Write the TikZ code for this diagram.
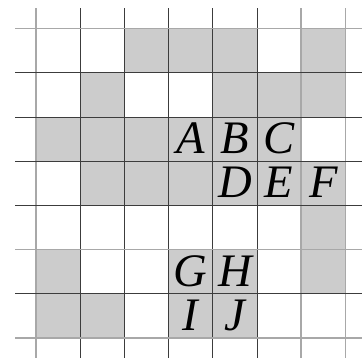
\documentclass[tikz,border=0pt]{standalone}
\usepackage{fontspec}
\newfontfamily\letterfont{Liberation Serif Italic}
\usepackage{xcolor}
\definecolor{cellgray}{HTML}{CCCCCC}
\definecolor{gridline}{HTML}{3C3C3C}
\definecolor{gridpale}{HTML}{A8A8A8}
\tikzset{
  cell/.style={fill=cellgray, draw=none},
  grid/.style={draw=gridline, line width=0.45pt},
  gridlt/.style={draw=gridpale, line width=0.9pt},
  letter/.style={font=\fontsize{30}{30}\letterfont, anchor=base, inner sep=0pt},
}

\begin{document}
\begin{tikzpicture}

  \useasboundingbox (-0.815,-0.452) rectangle (7.376,7.647);

  % shaded cells, row by row from the top
  \foreach \x in {2,3,4,6} \fill[cell] (\x,6) rectangle ++(1,1);
  \foreach \x in {1,4,5,6} \fill[cell] (\x,5) rectangle ++(1,1);
  \foreach \x in {0,...,5} \fill[cell] (\x,4) rectangle ++(1,1);
  \foreach \x in {1,...,6} \fill[cell] (\x,3) rectangle ++(1,1);
  \fill[cell] (6,2) rectangle ++(1,1);
  \foreach \x in {0,3,4,6} \fill[cell] (\x,1) rectangle ++(1,1);
  \foreach \x in {0,1,3,4} \fill[cell] (\x,0) rectangle ++(1,1);

  % grid lines
  \foreach \x in {1,...,5}
    \draw[grid] (\x,-0.452) -- (\x,7.466);
  \foreach \x in {0,6,7}
    \draw[gridlt] (\x,-0.452) -- (\x,7.466);
  \foreach \y in {1,3,4,5,6}
    \draw[grid] (-0.475,\y) -- (7.376,\y);
  \foreach \y in {0,2,7}
    \draw[gridlt] (-0.475,\y) -- (7.376,\y);

  % letters
  \foreach \name/\x/\y in {A/3/4, B/4/4, C/5/4, D/4/3, E/5/3, F/6/3, G/3/1, H/4/1, I/3/0, J/4/0}
    \node[letter] (\name) at (\x+0.5,\y+0.17) {\name};

\end{tikzpicture}
\end{document}
